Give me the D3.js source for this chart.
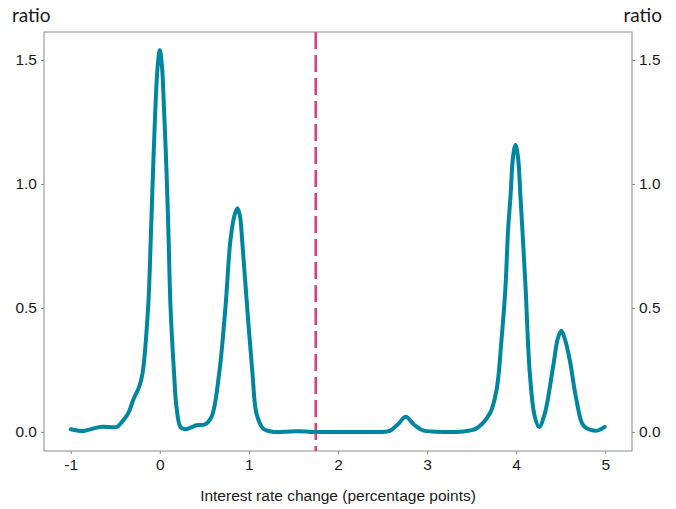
<!DOCTYPE html>
<html><head><meta charset="utf-8">
<script src="https://cdn.jsdelivr.net/npm/d3@7"></script>
<style>body{margin:0;background:#fff}</style>
</head><body>
<svg id="c" width="676" height="509"></svg>
<script>
const xVals = [-1.0,-0.86,-0.67,-0.48,-0.45,-0.356,-0.30,-0.232,-0.194,-0.131,-0.102,-0.077,-0.049,-0.024,0.0,0.024,0.046,0.076,0.098,0.12,0.16,0.187,0.232,0.281,0.35,0.412,0.505,0.58,0.666,0.737,0.793,0.84,0.872,0.9,0.924,0.98,1.04,1.085,1.159,1.272,1.4,1.57,1.7,2.0,2.3,2.5,2.58,2.67,2.761,2.85,2.955,3.1,3.33,3.479,3.554,3.704,3.779,3.835,3.88,3.909,3.936,3.965,3.992,4.02,4.048,4.07,4.105,4.153,4.209,4.257,4.321,4.414,4.47,4.508,4.55,4.602,4.677,4.752,4.845,4.92,4.994];
const yVals = [0.011,0.004,0.020,0.020,0.030,0.074,0.128,0.182,0.236,0.504,0.774,1.043,1.312,1.476,1.540,1.476,1.312,1.043,0.787,0.504,0.236,0.101,0.020,0.011,0.018,0.027,0.030,0.061,0.236,0.504,0.774,0.876,0.902,0.87,0.774,0.504,0.236,0.074,0.014,0.0,0.001,0.003,0.0,0.0,0.0,0.0,0.004,0.03,0.061,0.03,0.006,0.001,0.0,0.006,0.014,0.074,0.168,0.370,0.585,0.814,0.948,1.11,1.157,1.11,0.948,0.814,0.585,0.236,0.061,0.020,0.074,0.262,0.38,0.408,0.37,0.289,0.128,0.027,0.007,0.006,0.020];
const xTicks = [-1,0,1,2,3,4,5];
const yTicks = [0.0,0.5,1.0,1.5];
const cutoff = 1.75;

const svg = d3.select("#c");
const L = 44, R = 632, T = 32, B = 451;
const x = d3.scaleLinear().domain([-1.3, 5.3]).range([L, R]);
const y = d3.scaleLinear().domain([-0.077, 1.613]).range([B, T]);

const tf = "'Liberation Sans', Arial, sans-serif";

// frame
svg.append("rect").attr("x", L).attr("y", T).attr("width", R - L).attr("height", B - T)
  .attr("fill", "none").attr("stroke", "#8c8c8c").attr("stroke-width", 1);

// axes
const ax = svg.append("g").attr("transform", `translate(0,${B})`)
  .call(d3.axisBottom(x).tickValues(xTicks).tickFormat(d => String(d)).tickSize(3).tickPadding(5));
const ay = svg.append("g").attr("transform", `translate(${L},0)`)
  .call(d3.axisLeft(y).tickValues(yTicks).tickFormat(d3.format(".1f")).tickSize(3).tickPadding(4));
const ay2 = svg.append("g").attr("transform", `translate(${R},0)`)
  .call(d3.axisRight(y).tickValues(yTicks).tickFormat(d3.format(".1f")).tickSize(3).tickPadding(4));
[ax, ay, ay2].forEach(g => {
  g.select(".domain").remove();
  g.selectAll(".tick line").attr("stroke", "#8c8c8c");
  g.selectAll(".tick text").attr("fill", "#1a1a1a").style("font-family", tf).style("font-size", "15.5px");
});

// cutoff line
svg.append("line").attr("x1", x(cutoff)).attr("x2", x(cutoff)).attr("y1", T).attr("y2", B)
  .attr("stroke", "#d9407c").attr("stroke-width", 2.6).attr("stroke-dasharray", "17,6");

// density line
const pts = xVals.map((v, i) => [v, yVals[i]]);
svg.append("path").datum(pts)
  .attr("d", d3.line().x(d => x(d[0])).y(d => y(d[1])).curve(d3.curveCatmullRom.alpha(0.5)))
  .attr("fill", "none").attr("stroke", "#00879f").attr("stroke-width", 4)
  .attr("stroke-linejoin", "round").attr("stroke-linecap", "round");

// labels
svg.append("text").attr("x", 12).attr("y", 22).text("ratio")
  .style("font-family", "Lato, sans-serif").style("font-size", "19px").attr("fill", "#1a1a1a");
svg.append("text").attr("x", 662).attr("y", 22).attr("text-anchor", "end").text("ratio")
  .style("font-family", "Lato, sans-serif").style("font-size", "19px").attr("fill", "#1a1a1a");
svg.append("text").attr("x", (L + R) / 2).attr("y", 501).attr("text-anchor", "middle")
  .text("Interest rate change (percentage points)")
  .style("font-family", tf).style("font-size", "15.5px").attr("fill", "#1a1a1a");
</script>
</body></html>
